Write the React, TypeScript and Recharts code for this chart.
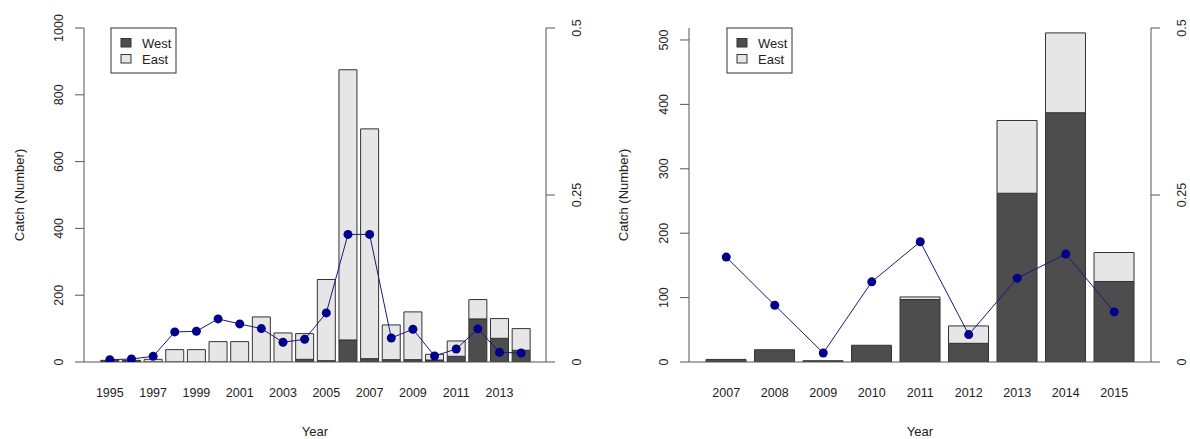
import React from 'react';
import { ComposedChart, Bar, Line, XAxis, YAxis } from 'recharts';

const leftYears = ['1995','1996','1997','1998','1999','2000','2001','2002','2003','2004','2005','2006','2007','2008','2009','2010','2011','2012','2013','2014'];
const leftWest = [3, 3, 0, 0, 0, 0, 0, 0, 0, 8, 4, 66, 10, 7, 7, 6, 17, 129, 71, 35];
const leftEast = [2, 2, 8, 37, 37, 61, 61, 135, 87, 77, 243, 809, 688, 104, 143, 17, 46, 58, 59, 65];
const leftRate = [0.0035, 0.0045, 0.0085, 0.045, 0.046, 0.0645, 0.057, 0.05, 0.0295, 0.034, 0.0735, 0.191, 0.191, 0.036, 0.049, 0.009, 0.0195, 0.0495, 0.0145, 0.0135];
const leftCatchTicks = [0, 200, 400, 600, 800, 1000];

const rightYears = ['2007','2008','2009','2010','2011','2012','2013','2014','2015'];
const rightWest = [4, 19, 2, 26, 97, 29, 262, 387, 125];
const rightEast = [0, 0, 0, 0, 4, 27, 113, 124, 45];
const rightRate = [0.157, 0.085, 0.0135, 0.12, 0.18, 0.041, 0.1255, 0.1615, 0.075];
const rightCatchTicks = [0, 100, 200, 300, 400, 500];

const rateTicks = [0, 0.25, 0.5];

const leftData = leftYears.map((y, i) => ({ year: y, west: leftWest[i], east: leftEast[i], rate: leftRate[i] }));
const rightData = rightYears.map((y, i) => ({ year: y, west: rightWest[i], east: rightEast[i], rate: rightRate[i] }));

const FONT = '"Liberation Sans", Arial, sans-serif';
const TEXT = '#222';
const AXIS = '#555';
const WEST = '#4d4d4d';
const EAST = '#e6e6e6';
const BARSTROKE = '#333';

const YTick = (props: any) => {
  const { x, y, payload } = props;
  return (
    <text x={x} y={y} transform={`rotate(-90, ${x}, ${y})`} textAnchor="middle" fontSize={12.5} fontFamily={FONT} fill={TEXT}>
      {String(payload.value)}
    </text>
  );
};

const XTick = (props: any) => {
  const { x, y, payload } = props;
  return (
    <text x={x} y={y + 35} textAnchor="middle" fontSize={12.5} fontFamily={FONT} fill={TEXT}>
      {payload.value}
    </text>
  );
};

type PanelProps = {
  data: any[];
  width: number;
  marginLeft: number;
  marginRight: number;
  rightAxisWidth: number;
  catchDomain: [number, number];
  catchTicks: number[];
  padL: number;
  padR: number;
  interval: number;
};

const Panel = (p: PanelProps) => (
  <ComposedChart
    width={p.width}
    height={439}
    data={p.data}
    margin={{ top: 28, right: p.marginRight, bottom: 37, left: p.marginLeft }}
    barCategoryGap="8.3%"
  >
    <XAxis
      dataKey="year"
      height={40}
      interval={p.interval}
      padding={{ left: p.padL, right: p.padR }}
      tickLine={false}
      tickSize={0}
      tickMargin={0}
      axisLine={{ stroke: AXIS, strokeWidth: 1 }}
      tick={<XTick />}
    />
    <XAxis
      xAxisId="top"
      orientation="top"
      dataKey="year"
      height={0}
      tick={false}
      tickLine={false}
      axisLine={{ stroke: AXIS, strokeWidth: 1 }}
    />
    <YAxis
      yAxisId="left"
      width={60}
      domain={p.catchDomain}
      ticks={p.catchTicks}
      allowDataOverflow
      tickSize={9}
      tickMargin={12}
      axisLine={{ stroke: AXIS, strokeWidth: 1 }}
      tickLine={{ stroke: AXIS, strokeWidth: 1 }}
      tick={<YTick />}
    />
    <YAxis
      yAxisId="right"
      orientation="right"
      width={p.rightAxisWidth}
      domain={[0, 0.5]}
      ticks={rateTicks}
      allowDataOverflow
      tickSize={9}
      tickMargin={26}
      axisLine={{ stroke: AXIS, strokeWidth: 1 }}
      tickLine={{ stroke: AXIS, strokeWidth: 1 }}
      tick={<YTick />}
    />
    <Bar yAxisId="left" dataKey="west" stackId="a" fill={WEST} stroke={BARSTROKE} strokeWidth={1} isAnimationActive={false} />
    <Bar yAxisId="left" dataKey="east" stackId="a" fill={EAST} stroke={BARSTROKE} strokeWidth={1} isAnimationActive={false} />
    <Line
      yAxisId="right"
      dataKey="rate"
      type="linear"
      stroke="#1a1a7a"
      strokeWidth={1}
      dot={{ r: 4.5, fill: '#00008b', stroke: '#00008b', strokeWidth: 0 }}
      activeDot={false}
      isAnimationActive={false}
    />
  </ComposedChart>
);

const LegendBox = ({ x }: { x: number }) => (
  <g fontFamily={FONT} fontSize={13} fill={TEXT}>
    <rect x={x} y={28} width={65} height={45} fill="#fff" stroke={BARSTROKE} strokeWidth={1} />
    <rect x={x + 10} y={38.5} width={10} height={8.5} fill={WEST} stroke={BARSTROKE} strokeWidth={1} />
    <rect x={x + 10} y={54.5} width={10} height={8.5} fill={EAST} stroke={BARSTROKE} strokeWidth={1} />
    <text x={x + 31} y={47.5}>West</text>
    <text x={x + 31} y={63.5}>East</text>
  </g>
);

export default function App() {
  return (
    <div style={{ position: 'absolute', left: 0, top: 0, width: 1190, height: 439, background: '#fff', overflow: 'hidden' }}>
      <div style={{ position: 'absolute', left: 0, top: 0 }}>
        <Panel data={leftData} width={600} marginLeft={24} marginRight={14} rightAxisWidth={40}
          catchDomain={[0, 1000]} catchTicks={leftCatchTicks} padL={15} padR={14} interval={1} />
      </div>
      <div style={{ position: 'absolute', left: 600, top: 0 }}>
        <Panel data={rightData} width={590} marginLeft={29} marginRight={0} rightAxisWidth={39}
          catchDomain={[0, 518.6]} catchTicks={rightCatchTicks} padL={13} padR={12.5} interval={0} />
      </div>
      <svg width={1190} height={439} style={{ position: 'absolute', left: 0, top: 0, pointerEvents: 'none' }}>
        <LegendBox x={111} />
        <LegendBox x={727} />
        <g fontFamily={FONT} fontSize={13} fill={TEXT} textAnchor="middle">
          <text x={24} y={195} transform="rotate(-90, 24, 195)">Catch (Number)</text>
          <text x={628} y={195} transform="rotate(-90, 628, 195)">Catch (Number)</text>
          <text x={315} y={436}>Year</text>
          <text x={920} y={436}>Year</text>
        </g>
      </svg>
    </div>
  );
}
